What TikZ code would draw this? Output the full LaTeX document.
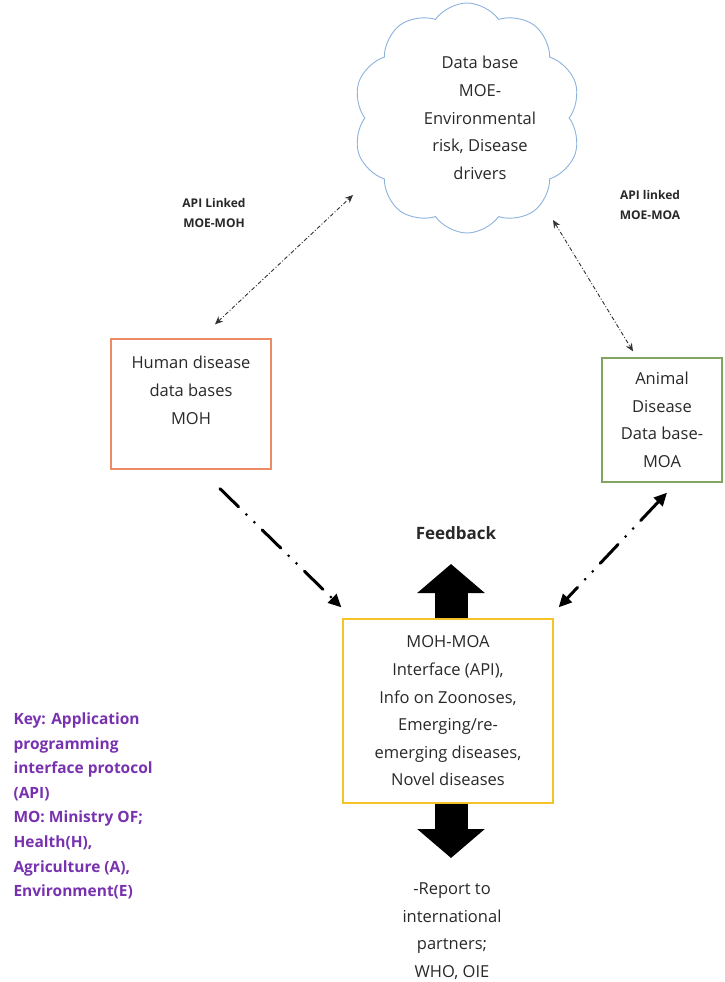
\documentclass[tikz,border=0pt]{standalone}
\usepackage{fontspec}
\setmainfont{Open Sans}
\usepackage{tikz}
\usetikzlibrary{shapes.symbols,arrows.meta}

\definecolor{cloudblue}{RGB}{140,178,222}
\definecolor{mohorange}{RGB}{236,140,100}
\definecolor{moagreen}{RGB}{130,165,95}
\definecolor{apiyellow}{RGB}{245,195,40}
\definecolor{keypurple}{RGB}{120,50,175}
\definecolor{txtgray}{RGB}{40,40,40}

\begin{document}
\begin{tikzpicture}[x=1pt,y=-1pt,
  bodytext/.style={align=center,text=txtgray,font=\fontsize{16.5}{27.6}\selectfont},
  dbbox/.style={bodytext,line width=1.3pt,inner sep=0pt},
  apilabel/.style={align=center,text=txtgray,font=\bfseries\fontsize{12}{20}\selectfont},
  apilink/.style={line width=0.9pt,draw=black!80,dash pattern=on 4pt off 2pt on 1pt off 2pt,{Stealth[length=8pt,width=7pt]}-{Stealth[length=8pt,width=7pt]}},
  flowlink/.style={line width=3pt,line cap=round,dash pattern=on 26pt off 11pt on 0pt off 11pt on 0pt off 11pt},
  bigarrow/.style={line width=33pt,-{Triangle[length=29pt,width=66pt]}}]
\useasboundingbox (0,0) rectangle (724,982);
% data bases
\node[cloud,cloud puffs=10,cloud puff arc=110,draw=cloudblue,line width=0.9pt,
  minimum width=222pt,minimum height=230pt,bodytext] (moe) at (467,118)
  {\hspace*{26pt}Data base\\\hspace*{26pt}MOE-\\\hspace*{26pt}Environmental\\\hspace*{26pt}risk, Disease\\\hspace*{26pt}drivers};
\node[dbbox,draw=mohorange,minimum width=160pt,minimum height=130pt] (moh) at (191,404)
  {Human disease\\data bases\\MOH\\\mbox{}};
\node[dbbox,draw=moagreen,minimum width=120pt,minimum height=124pt] (moa) at (662,420)
  {Animal\\Disease\\Data base-\\MOA};
\node[dbbox,draw=apiyellow,minimum width=210pt,minimum height=184pt] (api) at (448,711)
  {MOH-MOA\\Interface (API),\\Info on Zoonoses,\\Emerging/re-\\emerging diseases,\\Novel diseases};
% labels
\node[apilabel] (lblmoh) at (214,213) {API Linked\\MOE-MOH};
\node[apilabel] (lblmoa) at (650,205) {API linked\\MOE-MOA};
\node[font=\bfseries\fontsize{17}{20}\selectfont,text=txtgray] (fb) at (456,533) {Feedback};
\node[bodytext] (report) at (452,931) {-Report to\\international\\partners;\\WHO, OIE};
\node[anchor=west,align=left,text=keypurple,font=\bfseries\fontsize{15.5}{24.6}\selectfont] (key) at (10,806)
  {Key: Application\\programming\\interface protocol\\(API)\\MO: Ministry OF;\\Health(H),\\Agriculture (A),\\Environment(E)};
% links
\draw[apilink] ([xshift=24pt,yshift=14pt]moh.north) -- ([xshift=-114pt,yshift=-77pt]moe.center);
\draw[apilink] ([xshift=86pt,yshift=-102pt]moe.center) -- ([xshift=-29pt,yshift=6pt]moa.north);
\draw[flowlink,-{Triangle[length=13pt,width=12pt]}] ([xshift=29pt,yshift=-19pt]moh.south) -- ([xshift=-1pt,yshift=11pt]api.north west);
\draw[flowlink,{Triangle[length=13pt,width=12pt]}-{Triangle[length=13pt,width=12pt]}] ([xshift=5pt,yshift=-10pt]moa.south) -- ([xshift=5pt,yshift=11pt]api.north east);
% big arrows
\coordinate (fbtip) at (451,564);
\coordinate (reptip) at (451,858);
\draw[bigarrow] (api.north -| fbtip) -- (fbtip);
\draw[bigarrow] (api.south -| reptip) -- (reptip);
\end{tikzpicture}
\end{document}
